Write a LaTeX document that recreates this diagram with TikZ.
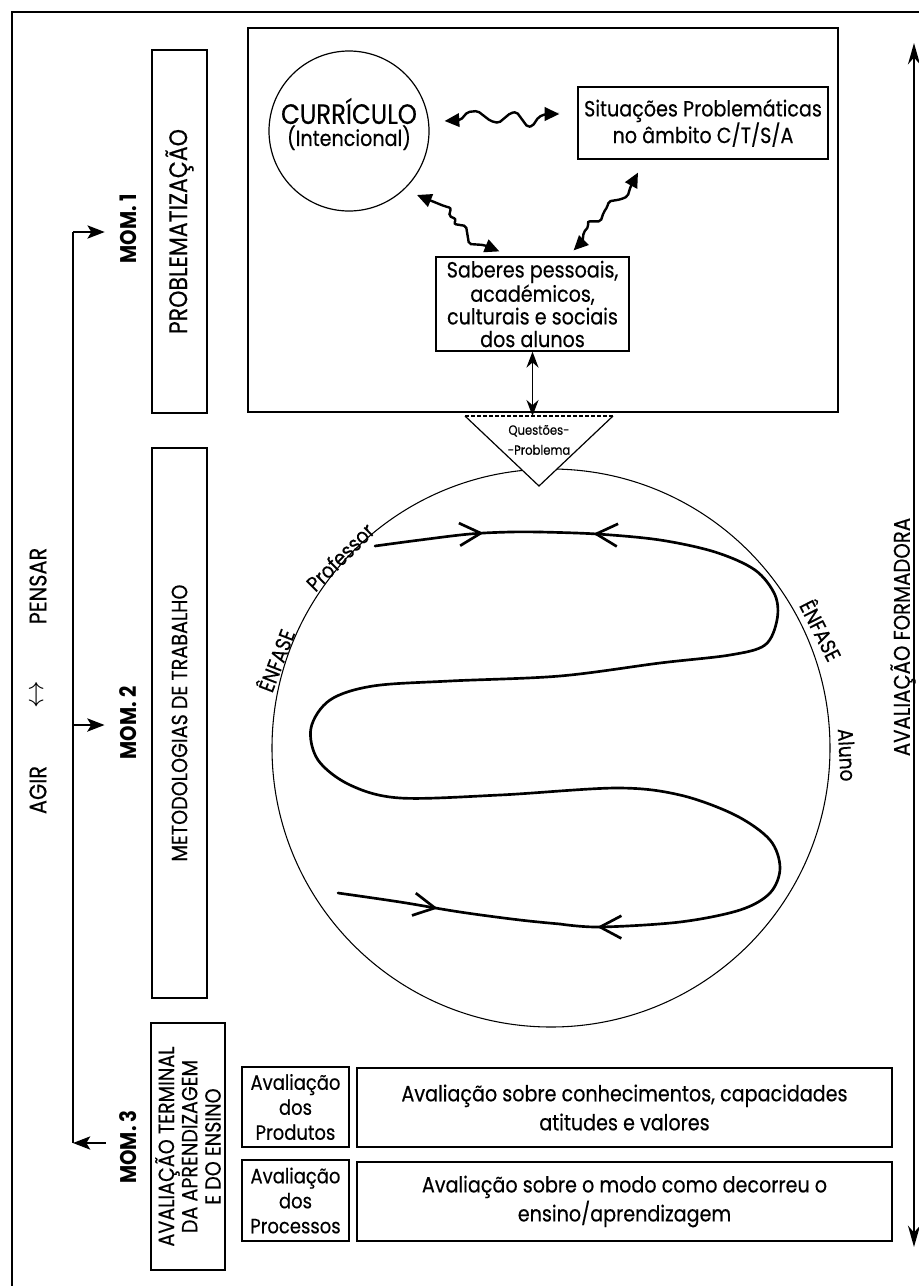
\documentclass[tikz,border=0pt]{standalone}
\usepackage{fontspec}
\setmainfont{Poppins}[FakeStretch=0.87,UprightFeatures={FakeBold=0.35}]
\usetikzlibrary{arrows.meta}
\usetikzlibrary{calc}
\usetikzlibrary{decorations.markings}

\newcommand{\fsz}[2]{\fontsize{#1}{#2}\selectfont}
\tikzset{spbarb/.tip={Straight Barb[length=16pt,width=17pt]}}

\begin{document}
\begin{tikzpicture}[x=0.75pt,y=0.75pt,yscale=-1,xscale=1,
  box/.style={draw,line width=0.9pt,inner sep=0pt,align=center},
  vlabel/.style={rotate=90,inner sep=1pt,align=center},
  momlabel/.style={rotate=90,inner sep=1pt,font=\bfseries\fsz{17}{18}},
  onring/.style={inner sep=0pt,font=\fsz{16}{18}},
  link/.style={line width=1.8pt,rounded corners=1.5pt,{Triangle[length=11pt,width=10pt]}-{Triangle[length=11pt,width=10pt]}},
  momarrow/.style={line width=1pt,-{Stealth[length=13pt,width=10pt,inset=3pt]}},
  spiral/.style={line width=2pt,line cap=round,line join=round},
  barbs/.style={postaction=decorate,decoration={markings,#1}}
]
\fill[white] (0,0) rectangle (919,1286);
\useasboundingbox (0,0) rectangle (919,1286);

%Frame
\draw[line width=1pt] (919,12) -- (12,12) -- (12,1286);
%Problematizacao area
\draw[line width=0.9pt] (248,28) rectangle (838,412);

%Nodes of the problem area
\node[draw,line width=0.9pt,circle,inner sep=0pt,minimum size=120pt] (curr) at (349,131) {};
\node[align=center,inner sep=0pt] (currtxt) at (349,124) {\fsz{21}{26}CURRÍCULO\\\fsz{16.5}{26}(Intencional)};
\node[box,minimum width=187.5pt,minimum height=54pt,font=\fsz{16.5}{20}] (sit) at (703,123) {Situações Problemáticas\\no âmbito C/T/S/A};
\node[box,minimum width=144.75pt,minimum height=70.5pt,font=\fsz{16.5}{17}] (sab) at (532.5,304) {Saberes pessoais,\\académicos,\\culturais e sociais\\dos alunos};

%Wavy links
\draw[link] ($(curr.east)+(15,-10)$) -- ++(16,-1) -- ++(7,-8) -- ++(10,-1) -- ++(13,10) -- ++(8,2) -- ++(12,-10) -- ++(6,-1) -- ++(11,15) -- ++(5,-1) -- ++(6,-9) -- ++(7,-3) -- ($(sit.west)+(-18,-9)$);
\draw[link] ($(curr.south east)+(11,7)$) -- ++(27,11) -- ++(7,2) -- ++(-2,8) -- ++(7,3) -- ++(-2,5) -- ++(12,2) -- ++(2,12) -- ++(1,6) -- ++(15,1) -- ($(sab.north west)+(64,-5)$);
\draw[link] ($(sab.north east)+(-56,-6)$) -- ++(9,-9) -- ++(1,-9) -- ++(5,-6) -- ++(-1,-5) -- ++(13,0) -- ++(3,-9) -- ++(4,-6) -- ++(1,-5) -- ++(12,-2) -- ++(7,-3) -- ++(3,-10) -- ($(sit.south)+(-65,13)$);

%Big circle
\coordinate (ring) at (551,748);
\draw[line width=0.8pt] (ring) circle (279);

%Questoes-Problema
\coordinate (qleft) at (465,416);
\coordinate (qright) at (613,416);
\coordinate (qtip) at (539,486);
\draw[line width=0.9pt,fill=white] (qleft) -- (qtip) -- (qright);
\draw[line width=0.9pt,dash pattern=on 3pt off 1.5pt] (qleft) -- (qright);
\node[inner sep=0pt,align=center,font=\fsz{10}{15}] (quest) at (539,440) {Questões-\\-Problema};
\draw[line width=1.4pt,{Stealth[length=12pt,width=9pt]}-{Stealth[length=12pt,width=9pt]}] (sab.south) -- (sab.south |- qleft);

%Labels on the circle
\node[onring,rotate=45] (prof) at (340,557) {Professor};
\node[onring,rotate=69] (enfa) at (275,660) {ÊNFASE};
\node[onring,rotate=-63] (enfb) at (822,630) {ÊNFASE};
\node[onring,rotate=-87] (aluno) at (847,755) {Aluno};

%Spiral
\draw[spiral,barbs={mark=at position 0.66 with {\arrow{spbarb}}}] plot[smooth,tension=0.6] coordinates {(375,546) (420,540) (470,534) (510,532) (540,532)};
\draw[spiral,barbs={mark=at position 40pt with {\arrowreversed{spbarb}},mark=at position -28pt with {\arrow{spbarb}}}] plot[smooth,tension=0.55] coordinates {(540,532) (597,534) (660,540) (715,552) (755,570) (775,595) (777,620) (765,645) (730,655) (660,663) (560,676) (450,681) (373,686) (330,700) (311,728) (318,760) (350,785) (400,798) (500,795) (617,788) (680,795) (735,815) (770,840) (780,868) (770,893) (740,910) (680,922) (600,927) (560,924)};
\draw[spiral,barbs={mark=at position 0.45 with {\arrow{spbarb}}}] plot[smooth,tension=0.6] coordinates {(338,893) (400,902) (460,912) (520,920) (560,924)};

%Left column
\node[box,vlabel,minimum width=272.25pt,minimum height=41.25pt,font=\fsz{19}{20}] (prob) at (179.5,231.5) {PROBLEMATIZAÇÃO};
\node[box,vlabel,minimum width=412.5pt,minimum height=41.25pt,font=\fsz{16.5}{20}] (metod) at (179.5,723) {METODOLOGIAS DE TRABALHO};
\node[box,vlabel,minimum width=185.25pt,minimum height=55.5pt,font=\fsz{16.5}{17.5}] (avterm) at (188,1146.5) {AVALIAÇÃO TERMINAL\\DA APRENDIZAGEM\\E DO ENSINO};

\node[momlabel] (mom1) at (128,229) {MOM. 1};
\node[momlabel] (mom2) at (128,723) {MOM. 2};
\node[momlabel] (mom3) at (128,1147) {MOM. 3};

\node[vlabel,font=\fsz{18}{20}] (pensar) at (38,586) {PENSAR};
\node[vlabel,font=\fsz{20}{20}] (lr) at (38,695) {$\leftrightarrow$};
\node[vlabel,font=\fsz{18}{20}] (agir) at (38,790) {AGIR};

\coordinate (c1) at (73,232);
\coordinate (c2) at (73,725);
\coordinate (c3) at (73,1143);
\draw[line width=1pt] (c1) -- (c3);
\draw[momarrow,shorten >=10pt] (c1) -- (c1 -| mom1.north);
\draw[momarrow,shorten >=10pt] (c2) -- (c2 -| mom2.north);
\draw[momarrow,shorten <=9pt] (c3 -| mom3.north) -- (c3);

%Final evaluation boxes
\node[box,minimum width=80.25pt,minimum height=60pt,font=\fsz{15.5}{18.75}] (prod) at (295.5,1107) {Avaliação\\dos\\Produtos};
\node[box,minimum width=80.25pt,minimum height=60.75pt,font=\fsz{15.5}{18.75}] (proc) at (295.5,1200.5) {Avaliação\\dos\\Processos};
\node[box,minimum width=401.25pt,minimum height=59.25pt,font=\fsz{16.5}{21.75}] (conh) at (624.5,1107.5) {Avaliação sobre conhecimentos, capacidades\\atitudes e valores};
\node[box,minimum width=401.25pt,minimum height=59.25pt,font=\fsz{16.5}{21.75}] (modo) at (624.5,1201.5) {Avaliação sobre o modo como decorreu o\\ensino/aprendizagem};

%Formative evaluation
\coordinate (ftop) at (914,43);
\coordinate (fbot) at (914,1247);
\draw[line width=2pt,{Stealth[length=16pt,width=9pt]}-{Stealth[length=16pt,width=9pt]}] (ftop) -- (fbot);
\node[vlabel,font=\fsz{17}{20}] (form) at (903,637) {AVALIAÇÃO FORMADORA};

\end{tikzpicture}
\end{document}
